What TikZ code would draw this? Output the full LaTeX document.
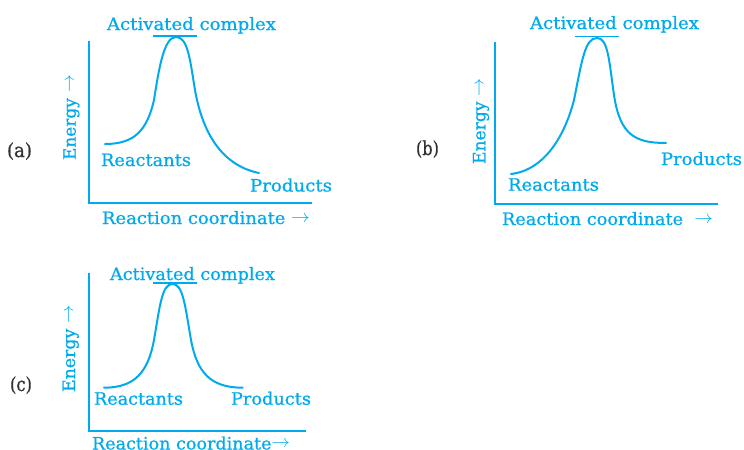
\documentclass[tikz,border=0pt]{standalone}
\usepackage{graphicx}
\usepackage{fontspec}
\setmainfont{DejaVu Serif}[FakeBold=0.8]
\definecolor{cy}{RGB}{0,170,236}
\definecolor{lbl}{RGB}{50,50,50}
\newcommand\fitw[2]{\resizebox{#1}{\height}{#2}}
\newcommand\arr{\raisebox{0.2ex}{\resizebox{1.05em}{!}{$\rightarrow$}}}
\tikzset{
  txt/.style={inner sep=0pt, outer sep=0pt, anchor=base west, text=cy, font=\fontsize{12.8}{15}\selectfont},
  ylab/.style={inner sep=0pt, outer sep=0pt, anchor=base, rotate=90, text=cy, font=\fontsize{12.8}{15}\selectfont},
  plab/.style={inner sep=0pt, outer sep=0pt, anchor=base west, text=lbl, font=\fontsize{14.5}{17}\selectfont},
  axis/.style={draw=cy, line width=1.8pt, line join=miter},
  curve/.style={draw=cy, line width=1.5pt, line cap=round},
  peakbar/.style={draw=cy, line width=1.2pt}
}
\begin{document}
\begin{tikzpicture}[x=0.75pt,y=-0.75pt]
\useasboundingbox (0,0) rectangle (744,450);
% ---------------- (a)
\coordinate (aT) at (89,41);
\coordinate (aO) at (89,203);
\coordinate (aR) at (312,203);
\draw[axis] (aT) -- (aO) -- (aR);
\coordinate (aS) at (105,144);
\coordinate (aP) at (176,37);
\coordinate (aE) at (259,173);
\draw[curve] (aS) .. controls (135,144) and (147,130) .. (154,100)
  .. controls (159,68) and (164,37) .. (aP)
  .. controls (188,37) and (190,60) .. (195,90)
  .. controls (202,130) and (220,165) .. (aE);
\coordinate (abL) at (153,36);
\coordinate (abR) at (197,36);
\draw[peakbar] (abL) -- (abR);
\node[txt] (aAC) at (107,30) {\fitw{126.75pt}{Activated complex}};
\node[txt] (aRe) at (101,166) {\fitw{67.5pt}{Reactants}};
\node[txt] (aPr) at (250,191.5) {\fitw{61.5pt}{Products}};
\node[txt] (aRC) at (102,224) {\fitw{156pt}{Reaction coordinate \arr}};
\node[ylab] (aEn) at (75.7,117.5) {\fitw{63.75pt}{Energy \arr}};
\node[plab] (aLab) at (7,157) {\fitw{18.75pt}{(a)}};
% ---------------- (b)
\coordinate (bT) at (495,42);
\coordinate (bO) at (495,204);
\coordinate (bR) at (718,204);
\draw[axis] (bT) -- (bO) -- (bR);
\coordinate (bS) at (511,174);
\coordinate (bP) at (597,38);
\coordinate (bE) at (666,143);
\draw[curve] (bS) .. controls (545,170) and (565,135) .. (574,100)
  .. controls (582,60) and (585,38) .. (bP)
  .. controls (608,38) and (609,60) .. (614,95)
  .. controls (620,135) and (635,143) .. (bE);
\coordinate (bbL) at (575,36.5);
\coordinate (bbR) at (619,36.5);
\draw[peakbar] (bbL) -- (bbR);
\node[txt] (bAC) at (530,29) {\fitw{126.75pt}{Activated complex}};
\node[txt] (bRe) at (508,190.7) {\fitw{68.25pt}{Reactants}};
\node[txt] (bPr) at (661,165) {\fitw{60.75pt}{Products}};
\node[txt] (bRC) at (502,225) {\fitw{158.25pt}{Reaction coordinate \ \arr}};
\node[ylab] (bEn) at (485.3,121) {\fitw{64.5pt}{Energy \arr}};
\node[plab] (bLab) at (416,155) {\fitw{17.25pt}{(b)}};
% ---------------- (c)
\coordinate (cT) at (89,273);
\coordinate (cO) at (89,431);
\coordinate (cR) at (306,431);
\draw[axis] (cT) -- (cO) -- (cR);
\coordinate (cS) at (104,387.7);
\coordinate (cP) at (172.5,284);
\coordinate (cE) at (242.7,387.7);
\draw[curve] (cS) .. controls (135,387.7) and (148,372) .. (154,340)
  .. controls (160,305) and (162,284) .. (cP)
  .. controls (183,284) and (185,305) .. (191,340)
  .. controls (197,372) and (210,387.7) .. (cE);
\coordinate (cbL) at (153,283);
\coordinate (cbR) at (197,283);
\draw[peakbar] (cbL) -- (cbR);
\node[txt] (cAC) at (110,280) {\fitw{123.75pt}{Activated complex}};
\node[txt] (cRe) at (94,404.7) {\fitw{66.75pt}{Reactants}};
\node[txt] (cPr) at (231,404.7) {\fitw{60pt}{Products}};
\node[txt] (cRC) at (92,449.5) {\fitw{148.5pt}{Reaction coordinate\arr}};
\node[ylab] (cEn) at (75,348.5) {\fitw{65.25pt}{Energy \arr}};
\node[plab] (cLab) at (10,391) {\fitw{16.5pt}{(c)}};
\end{tikzpicture}
\end{document}
